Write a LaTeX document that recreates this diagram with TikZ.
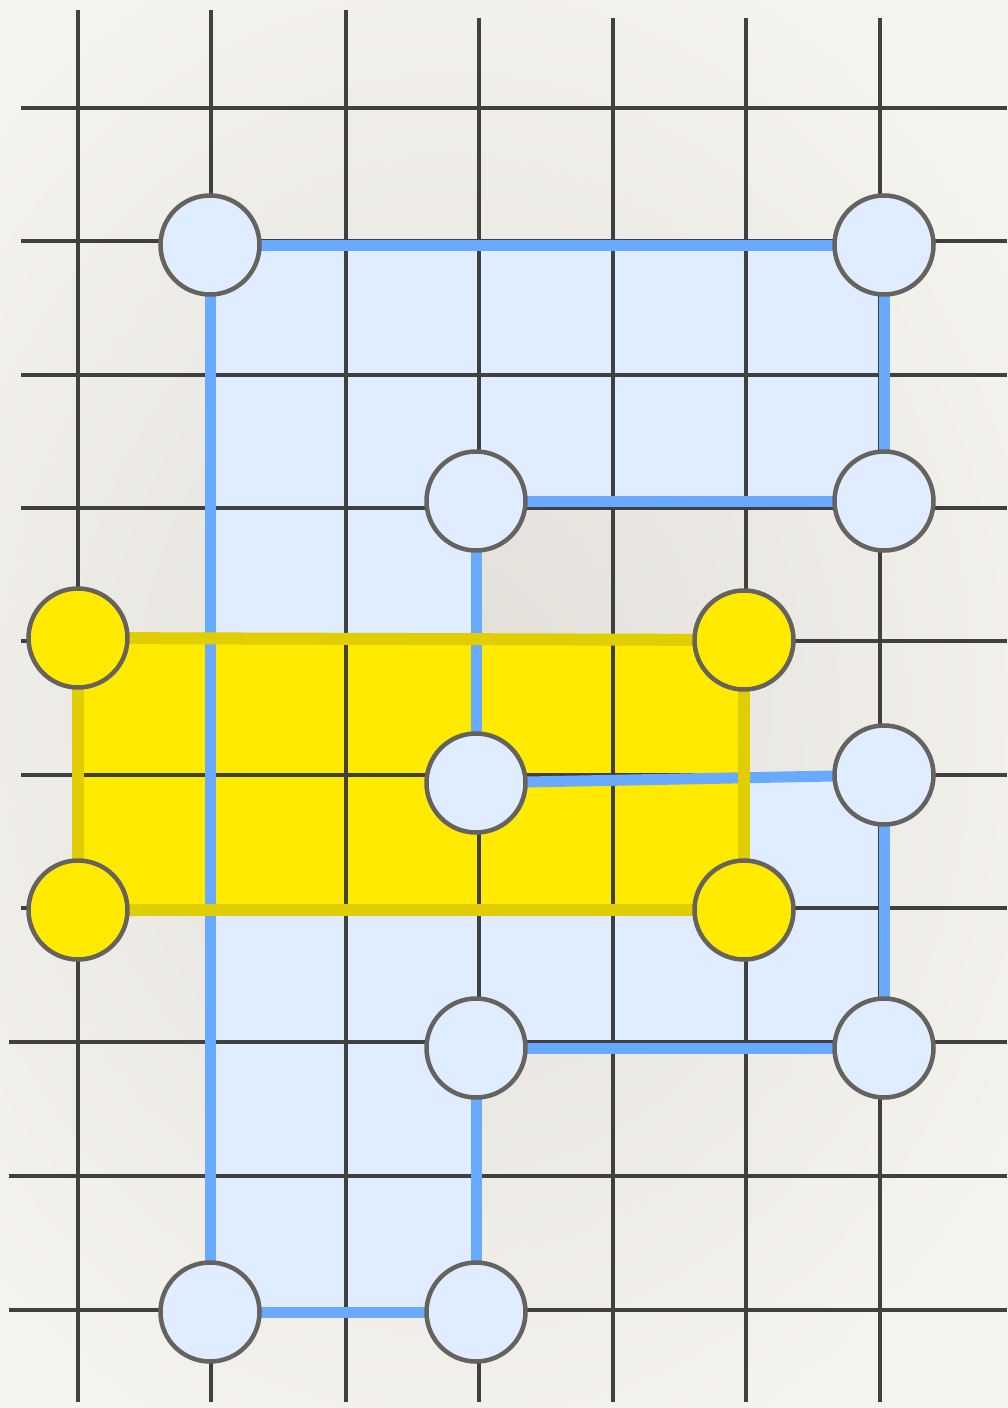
\documentclass[tikz,border=0pt]{standalone}
\definecolor{bgin}{RGB}{226,223,217}
\definecolor{bgout}{RGB}{246,244,239}
\definecolor{gridc}{RGB}{64,64,64}
\definecolor{bfill}{RGB}{224,236,255}
\definecolor{bline}{RGB}{104,170,255}
\definecolor{yfill}{RGB}{255,234,0}
\definecolor{yline}{RGB}{224,206,0}
\definecolor{nstroke}{RGB}{102,99,95}
\tikzset{
  gridline/.style={draw=gridc, line width=4pt},
  bedge/.style={draw=bline, line width=11pt},
  yedge/.style={draw=yline, line width=12pt},
  bnode/.style={circle, draw=nstroke, line width=4.5pt, fill=bfill, minimum size=99pt, inner sep=0pt},
  ynode/.style={circle, draw=nstroke, line width=4.5pt, fill=yfill, minimum size=99pt, inner sep=0pt}
}
\begin{document}
\begin{tikzpicture}[x=1pt,y=-1pt]
\useasboundingbox (0,0) rectangle (1007,1408);
\shade[inner color=bgin, outer color=bgout] (-250,-150) rectangle (1157,1558);
% positions
\coordinate (a) at (210,245);
\coordinate (b) at (884,245);
\coordinate (c) at (884,501);
\coordinate (d) at (476,501);
\coordinate (e) at (476,783);
\coordinate (f) at (884,775);
\coordinate (g) at (884,1048);
\coordinate (h) at (476,1048);
\coordinate (i) at (476,1312);
\coordinate (j) at (210,1312);
\coordinate (y1) at (78,638);
\coordinate (y2) at (744,640);
\coordinate (y3) at (78,910);
\coordinate (y4) at (744,910);
% fills
\fill[bfill] (a) -- (b) -- (c) -- (d) -- (e) -- (f) -- (g) -- (h) -- (i) -- (j) -- cycle;
\fill[yfill] (y1) -- (y2) -- (y4) -- (y3) -- cycle;
% grid
\foreach \x in {78,211,346} {\draw[gridline] (\x,10) -- (\x,1402);}
\foreach \x in {479,613,746,880} {\draw[gridline] (\x,18) -- (\x,1402);}
\foreach \y in {108,241,375,508} {\draw[gridline] (21,\y) -- (1007,\y);}
\foreach \y in {641,775,908} {\draw[gridline] (21,\y) -- (1007,\y);}
\foreach \y in {1042,1176,1310} {\draw[gridline] (9,\y) -- (1007,\y);}
% blue edges
\draw[bedge] (a) -- (b);
\draw[bedge] (b) -- (c);
\draw[bedge] (c) -- (d);
\draw[bedge] (d) -- (e);
\draw[bedge] (e) -- (f);
\draw[bedge] (f) -- (g);
\draw[bedge] (g) -- (h);
\draw[bedge] (h) -- (i);
\draw[bedge] (i) -- (j);
\draw[bedge] (j) -- (a);
% yellow edges
\draw[yedge] (y1) -- (y2);
\draw[yedge] (y2) -- (y4);
\draw[yedge] (y4) -- (y3);
\draw[yedge] (y3) -- (y1);
% nodes
\node[bnode] (nA) at (a) {};
\node[bnode] (nB) at (b) {};
\node[bnode] (nC) at (c) {};
\node[bnode] (nD) at (d) {};
\node[bnode] (nE) at (e) {};
\node[bnode] (nF) at (f) {};
\node[bnode] (nG) at (g) {};
\node[bnode] (nH) at (h) {};
\node[bnode] (nI) at (i) {};
\node[bnode] (nJ) at (j) {};
\node[ynode] (nY1) at (y1) {};
\node[ynode] (nY2) at (y2) {};
\node[ynode] (nY3) at (y3) {};
\node[ynode] (nY4) at (y4) {};
\end{tikzpicture}
\end{document}
